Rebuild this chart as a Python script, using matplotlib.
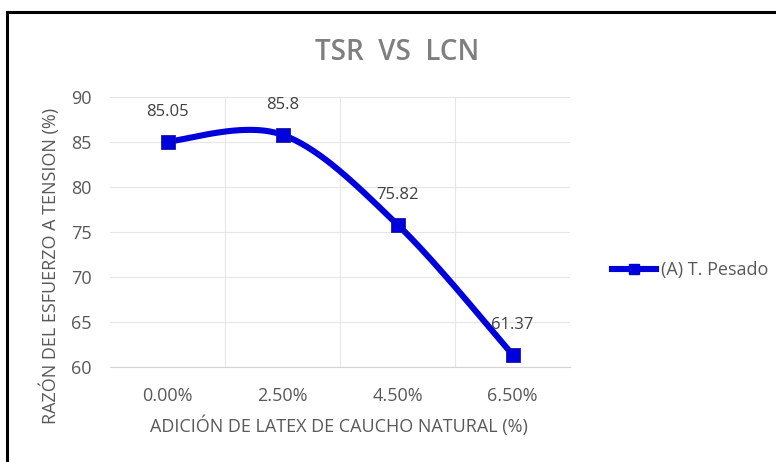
import numpy as np
import matplotlib.pyplot as plt
from matplotlib.patches import Rectangle
from matplotlib.lines import Line2D

categories = ["0.00%", "2.50%", "4.50%", "6.50%"]
tsr = [85.05, 85.8, 75.82, 61.37]
series_name = "(A) T. Pesado"

plt.rcParams['font.family'] = ['Open Sans', 'DejaVu Sans']

BLUE = "#0000dc"
GRAY = "#595959"
FS = 13


def smooth_curve(xs, ys, n=60, tension=0.5):
    """Cardinal spline through the points, drawn as cubic Bezier pieces."""
    xs = np.asarray(xs, float)
    ys = np.asarray(ys, float)
    px = np.concatenate([[xs[0]], xs, [xs[-1]]])
    py = np.concatenate([[ys[0]], ys, [ys[-1]]])
    out_x, out_y = [], []
    t = np.linspace(0, 1, n)
    for i in range(1, len(px) - 2):
        p0 = np.array([px[i], py[i]])
        p3 = np.array([px[i + 1], py[i + 1]])
        p1 = p0 + (np.array([px[i + 1], py[i + 1]]) - np.array([px[i - 1], py[i - 1]])) * tension / 3
        p2 = p3 - (np.array([px[i + 2], py[i + 2]]) - np.array([px[i], py[i]])) * tension / 3
        b = ((1 - t) ** 3)[:, None] * p0 + (3 * (1 - t) ** 2 * t)[:, None] * p1 \
            + (3 * (1 - t) * t ** 2)[:, None] * p2 + (t ** 3)[:, None] * p3
        out_x.extend(b[:, 0])
        out_y.extend(b[:, 1])
    return np.array(out_x), np.array(out_y)


fig = plt.figure(figsize=(7.76, 4.62), dpi=100)
ax = fig.add_axes([110 / 776, 1 - 367 / 462, 460 / 776, 270 / 462])

x = np.arange(len(categories))
cx, cy = smooth_curve(x, tsr, tension=0.5)
ax.plot(cx, cy, color=BLUE, linewidth=4.4, solid_capstyle='round', zorder=3)
ax.plot(x, tsr, linestyle='none', marker='s', markersize=10,
        color=BLUE, markeredgecolor="#1a1a9a", markeredgewidth=0.6, zorder=4)

for xi, v in zip(x, tsr):
    ax.annotate(f"{v:g}", (xi, v), xytext=(0, 21.5), textcoords='offset points',
                ha='center', va='center', fontsize=12, color="#404040")

ax.set_xlim(-0.5, len(categories) - 0.5)
ax.set_ylim(60, 90)
ax.set_yticks(np.arange(60, 91, 5))
ax.set_xticks(x)
ax.set_xticklabels(categories)
ax.set_xticks(np.arange(0.5, len(categories) - 0.5, 1), minor=True)
ax.grid(True, axis='y', color="#e6e6e6", linewidth=0.8)
ax.grid(True, axis='x', which='minor', color="#e6e6e6", linewidth=0.8)
ax.set_axisbelow(True)
for side in ['top', 'right', 'left']:
    ax.spines[side].set_visible(False)
ax.spines['bottom'].set_color("#d4d4d4")
ax.tick_params(axis='both', which='both', length=0, labelsize=FS, labelcolor=GRAY)
ax.tick_params(axis='x', pad=14.5)
ax.tick_params(axis='y', pad=13)

ax.set_xlabel("ADICIÓN DE LATEX DE CAUCHO NATURAL (%)", fontsize=FS, color=GRAY)
ax.xaxis.set_label_coords(0.498, (367 - 426) / 270)
ax.xaxis.label.set_va('center')
ax.set_ylabel("RAZÓN DEL ESFUERZO A TENSION (%)", fontsize=FS, color=GRAY)
ax.yaxis.set_label_coords((50 - 110) / 460, (367 - 266) / 270)
ax.yaxis.label.set_va('center')

fig.text(397 / 776, 1 - 52 / 462, "TSR  VS  LCN",
         ha='center', va='center', fontsize=20, fontweight='semibold', color="#7f7f7f")

handle = Line2D([0], [0], color=BLUE, linewidth=4.4, marker='s', markersize=7)
fig.legend([handle], [series_name], loc='center left',
           bbox_to_anchor=(596 / 776, 1 - 270 / 462), frameon=False,
           fontsize=FS, labelcolor=GRAY, handlelength=2.4, handletextpad=0.3)

# outer frame, running off the right and bottom edges
fig.patches.append(Rectangle((7 / 776, -0.05), 1.1, 1 - 12 / 462 + 0.05,
                             transform=fig.transFigure, fill=False,
                             edgecolor='black', linewidth=2.2))

fig.savefig("out.png", dpi=100)
